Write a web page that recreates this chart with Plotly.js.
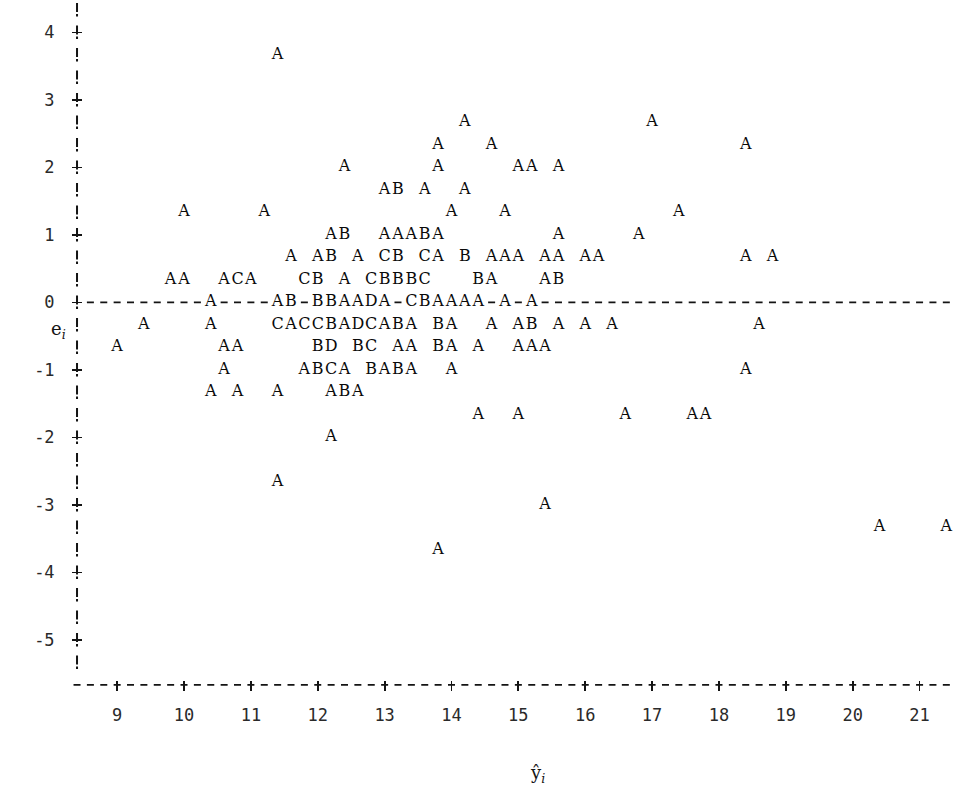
<!DOCTYPE html>
<html><head><meta charset="utf-8">
<script src="https://cdn.plot.ly/plotly-3.0.1.min.js"></script>
<style>html,body{margin:0;padding:0;background:#fff}#chart{width:953px;height:799px}</style>
</head><body><div id="chart"></div>
<script>
// fitted values (y-hat), one entry per plotted symbol, listed row by row from the top
const fittedValues = [
  11.4,
  14.2, 17.0,
  13.8, 14.6, 18.4,
  12.4, 13.8, 15.0, 15.2, 15.6,
  13.0, 13.2, 13.6, 14.2,
  10.0, 11.2, 14.0, 14.8, 17.4,
  12.2, 12.4, 13.0, 13.2, 13.4, 13.6, 13.8, 15.6, 16.8,
  11.6, 12.0, 12.2, 12.6, 13.0, 13.2, 13.6, 13.8, 14.2, 14.6, 14.8, 15.0, 15.4, 15.6, 16.0, 16.2, 18.4, 18.8,
  9.8, 10.0, 10.6, 10.8, 11.0, 11.8, 12.0, 12.4, 12.8, 13.0, 13.2, 13.4, 13.6, 14.4, 14.6, 15.4, 15.6,
  10.4, 11.4, 11.6, 12.0, 12.2, 12.4, 12.6, 12.8, 13.0, 13.4, 13.6, 13.8, 14.0, 14.2, 14.4, 14.8, 15.2,
  9.4, 10.4, 11.4, 11.6, 11.8, 12.0, 12.2, 12.4, 12.6, 12.8, 13.0, 13.2, 13.4, 13.8, 14.0, 14.6, 15.0, 15.2, 15.6, 16.0, 16.4, 18.6,
  9.0, 10.6, 10.8, 12.0, 12.2, 12.6, 12.8, 13.2, 13.4, 13.8, 14.0, 14.4, 15.0, 15.2, 15.4,
  10.6, 11.8, 12.0, 12.2, 12.4, 12.8, 13.0, 13.2, 13.4, 14.0, 18.4,
  10.4, 10.8, 11.4, 12.2, 12.4, 12.6,
  14.4, 15.0, 16.6, 17.6, 17.8,
  12.2,
  11.4,
  15.4,
  20.4, 21.4,
  13.8
];
// residuals e_i
const residuals = [
  3.667,
  2.667, 2.667,
  2.333, 2.333, 2.333,
  2, 2, 2, 2, 2,
  1.667, 1.667, 1.667, 1.667,
  1.333, 1.333, 1.333, 1.333, 1.333,
  1, 1, 1, 1, 1, 1, 1, 1, 1,
  0.667, 0.667, 0.667, 0.667, 0.667, 0.667, 0.667, 0.667, 0.667, 0.667, 0.667, 0.667, 0.667, 0.667, 0.667, 0.667, 0.667, 0.667,
  0.333, 0.333, 0.333, 0.333, 0.333, 0.333, 0.333, 0.333, 0.333, 0.333, 0.333, 0.333, 0.333, 0.333, 0.333, 0.333, 0.333,
  0, 0, 0, 0, 0, 0, 0, 0, 0, 0, 0, 0, 0, 0, 0, 0, 0,
  -0.333, -0.333, -0.333, -0.333, -0.333, -0.333, -0.333, -0.333, -0.333, -0.333, -0.333, -0.333, -0.333, -0.333, -0.333, -0.333, -0.333, -0.333, -0.333, -0.333, -0.333, -0.333,
  -0.667, -0.667, -0.667, -0.667, -0.667, -0.667, -0.667, -0.667, -0.667, -0.667, -0.667, -0.667, -0.667, -0.667, -0.667,
  -1, -1, -1, -1, -1, -1, -1, -1, -1, -1, -1,
  -1.333, -1.333, -1.333, -1.333, -1.333, -1.333,
  -1.667, -1.667, -1.667, -1.667, -1.667,
  -2,
  -2.667,
  -3,
  -3.333, -3.333,
  -3.667
];
// plotting symbols (A = 1 obs, B = 2 obs, ...)
const plotSymbols = [
  'A',
  'A','A',
  'A','A','A',
  'A','A','A','A','A',
  'A','B','A','A',
  'A','A','A','A','A',
  'A','B','A','A','A','B','A','A','A',
  'A','A','B','A','C','B','C','A','B','A','A','A','A','A','A','A','A','A',
  'A','A','A','C','A','C','B','A','C','B','B','B','C','B','A','A','B',
  'A','A','B','B','B','A','A','D','A','C','B','A','A','A','A','A','A',
  'A','A','C','A','C','C','B','A','D','C','A','B','A','B','A','A','A','B','A','A','A','A',
  'A','A','A','B','D','B','C','A','A','B','A','A','A','A','A',
  'A','A','B','C','A','B','A','B','A','A','A',
  'A','A','A','A','B','A',
  'A','A','A','A','A',
  'A',
  'A',
  'A',
  'A','A',
  'A'
];
const xTickValues = [9, 10, 11, 12, 13, 14, 15, 16, 17, 18, 19, 20, 21];
const xTickLabels = ['9', '10', '11', '12', '13', '14', '15', '16', '17', '18', '19', '20', '21'];
const yTickValues = [-5, -4, -3, -2, -1, 0, 1, 2, 3, 4];
const yTickLabels = ['-5', '-4', '-3', '-2', '-1', '0', '1', '2', '3', '4'];

const INK = '#141414';
const X_RANGE = [8.295, 21.5];
const Y_RANGE = [-5.816, 4.48];
const PX_PER_X = 883 / (X_RANGE[1] - X_RANGE[0]);
const PX_PER_Y = 695 / (Y_RANGE[1] - Y_RANGE[0]);
const AXIS_X = 8.4;          // printer column of the vertical axis
const AXIS_Y = -5.667;       // printer row of the horizontal axis

const trace = {
  type: 'scatter',
  mode: 'markers+text',
  x: fittedValues,
  y: residuals,
  text: plotSymbols,
  textposition: 'middle center',
  textfont: {family: 'DejaVu Serif', size: 16, color: '#0a0a0a'},
  marker: {symbol: 'square', size: 11, color: '#ffffff', line: {width: 0}},
  cliponaxis: false,
  hoverinfo: 'skip',
  showlegend: false
};

const tickFont = {family: 'DejaVu Sans Mono', size: 17, color: '#2a2a2a'};

const layout = {
  width: 953, height: 799,
  margin: {l: 70, r: 0, t: 0, b: 104, pad: 0},
  paper_bgcolor: '#ffffff', plot_bgcolor: '#ffffff',
  showlegend: false,
  xaxis: {
    range: X_RANGE, anchor: 'free',
    position: ((AXIS_Y - Y_RANGE[0]) * PX_PER_Y + 5) / 695,
    tickmode: 'array', tickvals: xTickValues, ticktext: xTickLabels,
    ticks: 'outside', ticklen: 10, tickwidth: 1.8, tickcolor: INK,
    showline: false, showgrid: false, zeroline: false,
    tickfont: tickFont, ticklabelstandoff: 10, fixedrange: true
  },
  yaxis: {
    range: Y_RANGE, anchor: 'free',
    position: ((AXIS_X - X_RANGE[0]) * PX_PER_X + 5) / 883,
    tickmode: 'array', tickvals: yTickValues, ticktext: yTickLabels,
    ticks: 'outside', ticklen: 10, tickwidth: 1.8, tickcolor: INK,
    showline: false, showgrid: false, zeroline: false,
    tickfont: tickFont, ticklabelstandoff: 14, fixedrange: true
  },
  shapes: [
    {type: 'line', xref: 'x', yref: 'y', layer: 'below',
     x0: AXIS_X, x1: AXIS_X, y0: 4.333 + 7 / PX_PER_Y, y1: -5.333 - 9 / PX_PER_Y,
     line: {color: INK, width: 2, dash: '9px,2px,2.5px,9px'}},
    {type: 'line', xref: 'x', yref: 'y', layer: 'below',
     x0: 8.6 - 3.5 / PX_PER_X, x1: X_RANGE[1], y0: 0, y1: 0,
     line: {color: INK, width: 1.7, dash: '7px,' + (PX_PER_X / 5 - 7).toFixed(3) + 'px'}},
    {type: 'line', xref: 'x', yref: 'y', layer: 'below',
     x0: AXIS_X - 3.5 / PX_PER_X, x1: X_RANGE[1], y0: AXIS_Y, y1: AXIS_Y,
     line: {color: INK, width: 1.7, dash: '7px,' + (PX_PER_X / 5 - 7).toFixed(3) + 'px'}}
  ],
  annotations: [
    {xref: 'paper', yref: 'paper', x: (58 - 70) / 883, y: (695 - 330) / 695,
     xanchor: 'center', yanchor: 'middle', showarrow: false,
     text: 'e<sub><i>i</i></sub>', font: {family: 'DejaVu Serif', size: 18, color: INK}},
    {xref: 'paper', yref: 'paper', x: (537 - 70) / 883, y: (695 - 774) / 695,
     xanchor: 'center', yanchor: 'middle', showarrow: false,
     text: 'ŷ<sub><i>i</i></sub>', font: {family: 'DejaVu Serif', size: 18, color: INK}}
  ]
};

Plotly.newPlot('chart', [trace], layout, {staticPlot: true, displayModeBar: false});
</script>
</body></html>
